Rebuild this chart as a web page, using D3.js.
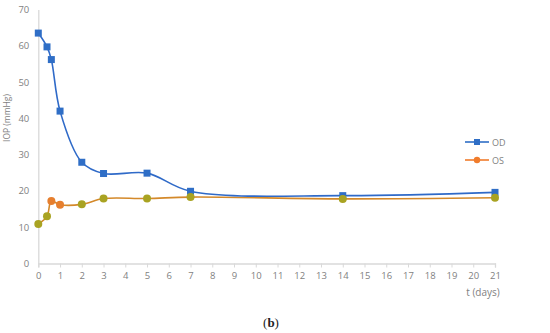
<!DOCTYPE html>
<html><head><meta charset="utf-8">
<script src="https://cdn.jsdelivr.net/npm/d3@7"></script>
<style>body{margin:0;background:#fff}svg{display:block}</style>
</head><body>
<script>
const days = [0, 0.4, 0.6, 1, 2, 3, 5, 7, 14, 21];
const odValues = [63.5, 59.7, 56.2, 42.0, 27.9, 24.8, 24.9, 19.9, 18.7, 19.6];
const osValues = [10.9, 13.0, 17.2, 16.2, 16.3, 17.9, 17.9, 18.3, 17.8, 18.1];
const yTicks = [0, 10, 20, 30, 40, 50, 60, 70];
const xTicks = d3.range(0, 22);
const seriesNames = ["OD", "OS"];

const W = 550, H = 333;
const svg = d3.select("body").append("svg").attr("width", W).attr("height", H);
const x = d3.scaleLinear().domain([0, 21]).range([38.3, 495]);
const y = d3.scaleLinear().domain([0, 70]).range([263.5, 9.5]);
const font = "'Open Sans', 'Liberation Sans', sans-serif";

// axes
const gx = svg.append("g").attr("transform", `translate(0,${y(0)})`)
  .call(d3.axisBottom(x).tickValues(xTicks).tickSize(4).tickPadding(5).tickFormat(d3.format("d")));
const gy = svg.append("g").attr("transform", `translate(${x(0)},0)`)
  .call(d3.axisLeft(y).tickValues(yTicks).tickSize(0).tickPadding(9));
[gx, gy].forEach(g => {
  g.select(".domain").attr("stroke", "#d9d9d9").attr("stroke-width", 1.3);
  g.selectAll(".tick line").attr("stroke", "#d9d9d9");
  g.selectAll(".tick text").attr("fill", "#7f7f7f").style("font-family", font).style("font-size", "9.5px");
});

const odData = days.map((d, i) => [d, odValues[i]]);
const osData = days.map((d, i) => [d, osValues[i]]);
const line = d3.line().x(d => x(d[0])).y(d => y(d[1])).curve(d3.curveCatmullRom.alpha(0.5));

svg.append("path").datum(osData).attr("d", line).attr("fill", "none")
  .attr("stroke", "#d4892a").attr("stroke-width", 1.6);
svg.append("path").datum(odData).attr("d", line).attr("fill", "none")
  .attr("stroke", "#2f6ac8").attr("stroke-width", 1.6);

svg.append("g").selectAll("rect").data(odData).join("rect")
  .attr("x", d => x(d[0]) - 3.5).attr("y", d => y(d[1]) - 3.5)
  .attr("width", 7).attr("height", 7).attr("fill", "#2f6ec6");
const osMarkerColor = (d, i) => (i === 2 || i === 3) ? "#e67f2e" : "#a9a322";
svg.append("g").selectAll("circle").data(osData).join("circle")
  .attr("cx", d => x(d[0])).attr("cy", d => y(d[1])).attr("r", 4)
  .attr("fill", osMarkerColor);

// legend
const leg = svg.append("g").attr("transform", "translate(465,142)");
seriesNames.forEach((n, i) => {
  const g = leg.append("g").attr("transform", `translate(0,${i * 18})`);
  const c = i === 0 ? "#2f6ec6" : "#f07c2c";
  g.append("line").attr("x1", 0).attr("x2", 24).attr("stroke", c).attr("stroke-width", 1.6);
  if (i === 0) g.append("rect").attr("x", 9).attr("y", -3).attr("width", 6).attr("height", 6).attr("fill", c);
  else g.append("circle").attr("cx", 12).attr("r", 3.2).attr("fill", c);
  g.append("text").attr("x", 27).attr("y", 3.5).text(n).attr("fill", "#7f7f7f")
    .style("font-family", font).style("font-size", "9px");
});

svg.append("text").attr("transform", `translate(10,118) rotate(-90)`)
  .attr("text-anchor", "middle").text("IOP (mmHg)").attr("fill", "#7f7f7f")
  .style("font-family", font).style("font-size", "8.5px");
svg.append("text").attr("x", 483).attr("y", 296).attr("text-anchor", "middle").text("t (days)")
  .attr("fill", "#7f7f7f").style("font-family", font).style("font-size", "10px");
const b = svg.append("text").attr("x", 271).attr("y", 327).attr("text-anchor", "middle")
  .attr("fill", "#222").style("font-family", "'Liberation Serif', serif").style("font-size", "13px");
b.append("tspan").text("(");
b.append("tspan").attr("font-weight", "bold").text("b");
b.append("tspan").text(")");
</script>
</body></html>
